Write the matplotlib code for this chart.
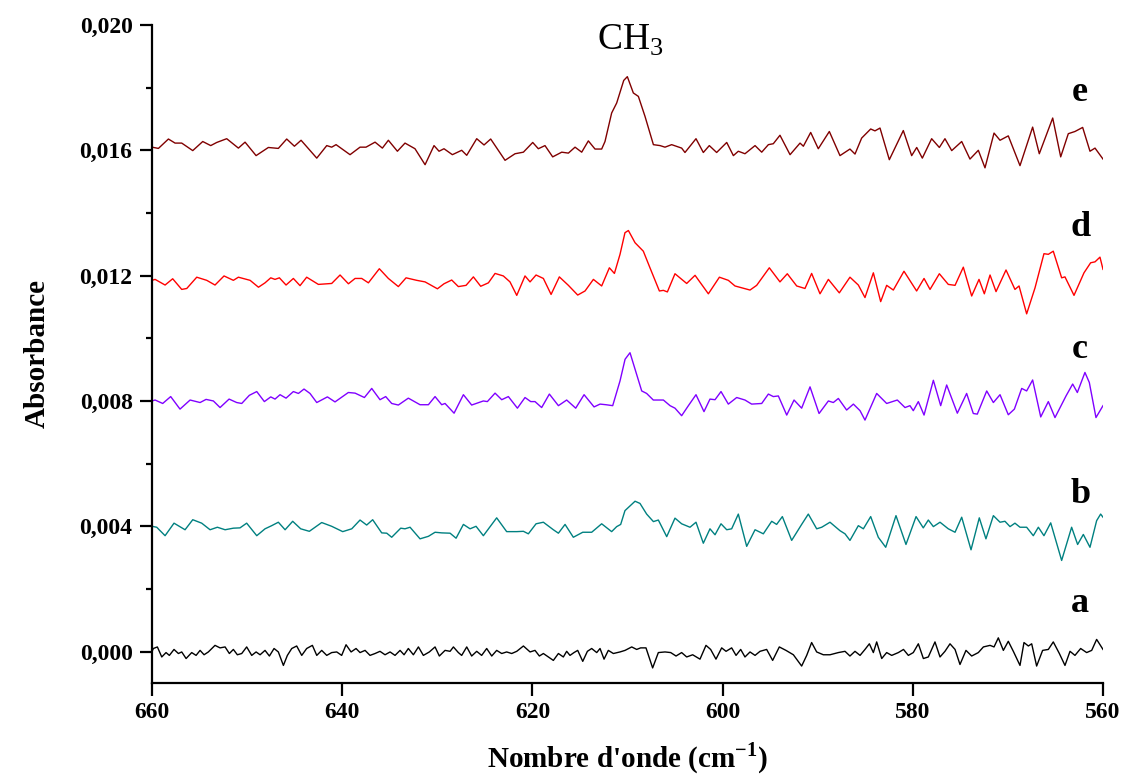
import matplotlib
matplotlib.use("Agg")
import matplotlib.pyplot as plt
import numpy as np

plt.rcParams['font.family'] = ['Liberation Serif', 'DejaVu Serif']
plt.rcParams['mathtext.fontset'] = 'custom'
plt.rcParams['mathtext.rm'] = 'Liberation Serif'
plt.rcParams['mathtext.bf'] = 'Liberation Serif:bold'

# absorbance values are given x 1e4
SCALE = 1e-4

# spectrum e (dark red)
x_e = [660.0, 659.33, 658.28, 657.58, 656.88, 655.72, 654.67, 653.83, 653.20, 652.15,
       650.92, 650.22, 649.06, 647.77, 646.72, 645.84, 645.03, 644.33, 643.46, 642.68,
       641.63, 641.11, 640.65, 639.18, 638.13, 637.50, 636.55, 635.78, 635.15, 634.20,
       633.40, 632.35, 631.29, 630.35, 629.82, 629.30, 628.42, 627.44, 626.91, 625.86,
       625.09, 624.39, 622.88, 621.83, 620.95, 619.97, 619.38, 618.68, 617.87, 616.92,
       616.22, 615.52, 614.82, 614.12, 613.42, 612.72, 612.37, 611.67, 611.14, 610.40,
       610.02, 609.39, 608.86, 608.16, 607.28, 606.58, 606.06, 605.36, 604.31, 603.96,
       602.80, 602.03, 601.40, 600.63, 599.57, 598.87, 598.35, 597.65, 596.59, 595.89,
       595.19, 594.67, 593.97, 592.91, 591.86, 591.51, 590.74, 589.94, 588.78, 587.66,
       586.61, 586.08, 585.38, 584.43, 583.98, 583.45, 582.47, 581.00, 580.12, 579.59,
       579.00, 578.02, 577.21, 576.62, 575.91, 574.86, 573.99, 573.11, 572.41, 571.46,
       570.83, 569.96, 568.73, 567.40, 566.70, 565.29, 564.45, 563.65, 562.95, 562.14,
       561.37, 560.84, 560.0]
y_e = [161.0, 160.6, 163.6, 162.3, 162.3, 159.9, 162.8, 161.5, 162.5, 163.7,
       160.7, 162.6, 158.3, 160.9, 160.6, 163.6, 161.3, 163.2, 160.2, 157.5,
       161.5, 161.0, 161.8, 158.6, 161.0, 161.0, 162.6, 160.7, 163.2, 159.7,
       162.3, 160.5, 155.4, 161.5, 159.7, 160.5, 158.6, 160.0, 158.4, 163.7,
       161.7, 163.6, 156.8, 158.9, 159.4, 162.5, 160.5, 161.5, 157.9, 159.4,
       159.1, 161.0, 159.4, 163.0, 160.4, 160.4, 162.8, 171.9, 175.1, 182.3,
       183.5, 178.3, 177.2, 170.8, 161.8, 161.5, 161.0, 161.8, 160.7, 159.3,
       163.7, 159.3, 161.5, 159.3, 162.5, 158.3, 159.7, 158.9, 161.5, 159.4,
       161.8, 162.1, 164.8, 158.6, 162.3, 161.3, 165.7, 160.5, 166.0, 158.3,
       160.4, 158.8, 163.9, 166.8, 166.2, 167.1, 157.0, 166.3, 158.3, 160.9,
       157.5, 163.7, 160.9, 163.7, 159.9, 162.8, 157.2, 160.0, 154.4, 165.5,
       163.2, 164.6, 155.1, 167.4, 158.9, 170.3, 157.9, 165.3, 166.0, 167.3,
       159.7, 160.7, 157.2]

# spectrum d (red)
x_d = [660.0, 659.68, 658.63, 657.83, 656.88, 656.35, 655.30, 654.25, 653.38, 652.43,
       651.45, 650.92, 649.69, 648.81, 648.12, 647.52, 647.07, 646.61, 645.91, 645.14,
       644.44, 643.74, 642.51, 641.11, 640.23, 639.35, 638.65, 637.95, 637.25, 636.10,
       635.15, 634.10, 633.29, 632.17, 631.29, 629.99, 629.30, 628.49, 627.79, 626.98,
       626.21, 625.44, 624.63, 623.93, 623.06, 622.36, 621.65, 620.78, 620.25, 619.62,
       618.85, 618.04, 617.17, 616.22, 615.24, 614.47, 613.59, 612.72, 611.91, 611.38,
       610.79, 610.27, 609.91,
       609.21, 608.34, 607.64, 606.65, 606.23, 605.81, 605.01, 603.78, 602.90, 601.50,
       600.34, 599.40, 598.70, 597.12, 596.42, 595.09, 593.97, 593.20, 592.21, 591.34,
       590.64, 589.76, 588.88, 587.73, 586.61, 585.73, 585.03, 584.15, 583.38, 582.75,
       582.05, 580.93, 579.60, 578.82, 578.19, 577.21, 576.27, 575.56, 574.69, 573.81,
       573.04, 572.48, 571.88, 571.25, 570.20, 569.26, 568.83, 568.03, 567.15, 566.21,
       565.75, 565.23, 564.35, 564.00, 563.05, 562.00, 561.30, 560.84, 560.32, 560.0]
y_d = [118.5, 118.8, 117.0, 119.0, 115.6, 115.9, 119.5, 118.5, 117.0, 119.9,
       118.5, 119.5, 118.5, 116.3, 117.7, 119.3, 118.8, 119.3, 117.0, 119.1,
       116.8, 119.5, 117.2, 117.5, 120.2, 117.4, 119.1, 119.1, 117.7, 122.2,
       119.1, 116.5, 119.3, 118.5, 118.0, 115.8, 117.4, 118.6, 116.5, 116.9,
       119.6, 116.6, 117.7, 120.7, 119.9, 118.0, 113.7, 119.9, 118.0, 120.2,
       119.1, 114.0, 119.6, 116.9, 113.8, 115.1, 118.8, 116.7, 122.5, 120.7,
       126.8, 133.7, 134.4,
       130.5, 127.8, 122.5, 115.1, 115.3, 114.8, 120.6, 117.5, 120.1, 114.2,
       119.5, 118.5, 116.7, 115.4, 116.9, 122.5, 118.0, 120.6, 116.7, 115.9,
       120.7, 114.2, 118.8, 114.5, 119.5, 117.0, 113.0, 120.9, 111.7, 116.9,
       115.4, 121.4, 115.1, 119.1, 115.6, 120.6, 117.2, 116.9, 122.7, 113.5,
       118.8, 114.2, 120.2, 114.9, 121.8, 115.6, 116.7, 107.8, 116.1, 127.0,
       126.8, 127.8, 119.3, 119.6, 113.7, 120.9, 124.1, 124.4, 125.9, 122.0]

# spectrum c (violet)
x_c = [660.0, 659.68, 658.88, 658.04, 657.06, 656.00, 654.95, 654.32, 653.55, 652.85,
       651.90, 651.10, 650.57, 649.77, 648.99, 648.19, 647.52, 647.07, 646.54, 645.91,
       645.14, 644.61, 644.02, 643.39, 642.68, 641.56, 640.76, 639.36, 638.65, 637.67,
       636.90, 636.03, 635.43, 634.80, 634.10, 633.05, 631.82, 630.94, 630.24, 629.54,
       629.19, 628.24, 627.26, 626.39, 625.16, 624.74, 623.93, 623.23, 622.53, 621.58,
       620.78, 620.18, 619.73, 619.03, 618.22, 617.27, 616.40, 615.45, 614.57, 613.52,
       612.89, 612.26, 611.56, 610.79, 610.26,
       609.74, 609.04, 608.51, 607.99, 607.29, 606.23, 605.53, 605.01, 604.31, 603.60,
       602.80, 601.96, 601.33, 600.80, 600.17, 599.40, 598.52, 597.65, 596.95, 595.89,
       595.19, 594.67, 594.14, 593.26, 592.49, 591.69, 590.81, 589.86, 588.88, 588.36,
       587.83, 586.96, 586.25, 585.55, 585.03, 583.80, 582.75, 581.63, 580.82, 580.30,
       579.95, 579.42, 578.82, 577.84, 577.07, 576.44, 575.32, 574.34, 573.64, 573.22,
       572.23, 571.53, 570.83, 569.96, 569.32, 568.55, 568.03, 567.40, 566.55, 565.75,
       565.05, 563.89, 563.19, 562.70, 561.90, 561.44, 560.74, 560.0]
y_c = [80.0, 80.3, 79.2, 81.4, 77.4, 80.3, 79.5, 80.5, 80.0, 77.9,
       80.6, 79.5, 79.2, 81.8, 83.0, 79.8, 81.3, 80.6, 82.0, 80.9,
       83.0, 82.4, 83.8, 82.4, 79.5, 81.3, 79.7, 82.7, 82.5, 81.1,
       84.0, 80.4, 81.4, 79.2, 78.7, 80.9, 78.8, 78.8, 81.4, 78.8,
       79.2, 76.1, 82.0, 78.7, 80.0, 79.8, 82.5, 80.4, 81.4, 77.7,
       81.1, 79.8, 79.8, 77.9, 82.2, 78.5, 80.3, 77.7, 82.0, 78.1,
       79.0, 78.8, 78.5, 86.4, 93.3,
       95.4, 88.5, 83.2, 82.4, 80.3, 80.3, 78.5, 77.7, 75.3, 78.5,
       82.0, 76.6, 80.6, 80.4, 83.0, 79.0, 81.1, 80.3, 79.0, 79.2,
       82.2, 81.4, 81.6, 75.5, 80.3, 77.7, 84.5, 76.0, 80.0, 79.5,
       80.8, 77.1, 79.0, 76.9, 73.9, 82.4, 79.2, 80.3, 77.9, 78.5,
       76.9, 79.8, 75.5, 86.6, 78.5, 85.1, 76.1, 82.4, 76.0, 75.8,
       83.2, 79.5, 82.0, 75.6, 77.4, 84.0, 83.2, 86.7, 74.9, 79.8,
       74.7, 81.6, 85.4, 82.7, 89.1, 85.9, 74.7, 78.5]

# spectrum b (teal)
x_b = [660.0, 659.51, 658.63, 657.69, 656.53, 655.72, 654.78, 653.90, 653.13, 652.32,
       651.45, 650.75, 650.05, 648.99, 648.12, 647.42, 646.72, 646.01, 645.21, 644.37,
       643.46, 642.16, 641.11, 639.95, 639.00, 638.13, 637.43, 636.80, 635.85, 635.32,
       634.80, 633.85, 633.40, 632.87, 631.82, 630.94, 630.24, 629.54, 628.66, 628.03,
       627.26, 626.56, 625.93, 625.16, 623.76, 622.71, 621.65, 620.95, 620.43, 619.62,
       618.85, 617.80, 617.27, 616.57, 615.70, 614.71, 613.77, 612.72, 611.67, 611.14,
       610.72, 610.27,
       609.21, 608.69, 607.99, 607.28, 606.76, 605.88, 605.01, 604.31, 603.43, 602.80,
       602.03, 601.33, 600.80, 600.17, 599.57, 599.05, 598.35, 597.47, 596.59, 595.72,
       594.84, 594.32, 593.72, 592.74, 591.69, 590.99, 590.11, 589.58, 588.71, 587.66,
       587.13, 586.61, 585.73, 585.20, 584.43, 583.63, 582.85, 581.77, 580.72, 579.66,
       578.90, 578.37, 577.84, 577.14, 576.27, 575.56, 574.86, 573.88, 573.01, 572.31,
       571.53, 570.83, 570.31, 569.78, 569.26, 568.73, 568.03, 567.33, 566.80, 566.21,
       565.50, 564.35, 563.30, 562.67, 562.07, 561.37, 560.67, 560.25, 560.0]
y_b = [40.0, 39.7, 37.0, 41.0, 38.9, 42.1, 41.0, 38.9, 39.7, 38.9,
       39.4, 39.5, 41.0, 37.0, 39.2, 40.2, 41.3, 38.9, 41.6, 39.2,
       38.4, 41.2, 40.0, 38.3, 39.2, 42.0, 40.4, 42.1, 37.9, 37.8,
       36.5, 39.4, 39.2, 39.7, 36.0, 36.8, 38.1, 37.9, 37.8, 36.2,
       40.6, 39.2, 40.0, 37.0, 42.7, 38.3, 38.3, 38.4, 37.6, 40.8,
       41.3, 38.9, 37.8, 40.6, 36.5, 38.1, 38.1, 40.8, 38.3, 39.9,
       40.6, 45.0,
       48.0, 47.3, 43.9, 41.5, 42.0, 36.7, 42.6, 40.8, 39.7, 41.3,
       34.6, 39.2, 37.3, 40.8, 38.9, 39.2, 43.9, 33.6, 38.9, 37.6,
       41.6, 40.6, 43.1, 35.5, 40.6, 43.9, 39.2, 39.7, 41.3, 38.6,
       37.6, 35.5, 40.2, 39.2, 43.1, 36.5, 33.3, 43.4, 34.2, 43.1,
       39.5, 42.0, 39.9, 41.3, 39.2, 38.1, 42.9, 32.5, 42.7, 36.0,
       43.4, 41.3, 41.6, 39.9, 41.0, 39.7, 39.7, 37.0, 39.7, 37.0,
       41.1, 29.1, 39.7, 34.2, 37.4, 33.3, 41.8, 43.9, 42.9]

# spectrum a (black)
x_a = [660.0, 659.86, 659.44, 658.98, 658.53, 658.18, 657.69, 657.23, 656.88, 656.42,
       655.83, 655.37, 654.95, 654.53, 654.08, 653.38, 652.85, 652.32, 651.87, 651.45,
       651.03, 650.57, 650.05, 649.52, 649.06, 648.64, 648.12, 647.66, 647.17, 646.72,
       646.19, 645.77, 645.31, 644.79, 644.26, 643.74, 643.14, 642.68, 642.16, 641.63,
       641.11, 640.58, 640.06, 639.60, 639.07, 638.55, 638.13, 637.60, 637.08, 636.55,
       636.03, 635.50, 634.97, 634.45, 633.92, 633.50, 633.05, 632.52, 631.99, 631.47,
       630.84, 630.24, 629.79, 629.19, 628.66, 628.31, 627.79, 627.44, 626.91, 626.39,
       625.86, 625.34, 624.81, 624.28, 623.76, 623.23, 622.71, 622.18, 621.65, 620.95,
       620.25, 619.73, 619.27, 618.85, 618.32, 617.80, 617.27, 616.75, 616.40, 616.05,
       615.63, 615.24, 614.71, 614.22, 613.77, 613.24, 612.89, 612.47, 612.02, 611.49,
       610.79, 610.26, 609.56, 609.04, 608.62, 608.06, 607.36, 606.76, 606.06, 605.46,
       604.90, 604.31, 603.78, 603.15, 602.38, 601.75, 601.26, 600.70, 600.10, 599.64,
       599.05, 598.59, 598.10, 597.65, 597.12, 596.59, 596.07, 595.37, 594.74, 594.04,
       593.34, 592.56, 591.69, 591.16, 590.64, 590.11, 589.41, 588.71, 587.83, 587.13,
       586.61, 586.08, 585.55, 585.03, 584.57, 584.15, 583.80, 583.27, 582.75, 582.22,
       581.52, 580.98, 580.47, 579.95, 579.42, 578.89, 578.37, 577.67, 577.14, 576.62,
       576.09, 575.56, 575.04, 574.41, 573.81, 573.11, 572.58, 571.88, 571.46, 571.01,
       570.48, 569.96, 569.43, 568.73, 568.31, 567.85, 567.50, 566.98, 566.35, 565.75,
       565.23, 564.59, 564.00, 563.47, 562.95, 562.35, 561.72, 561.19, 560.67, 560.0]
y_a = [0.1, 1.0, 1.5, -1.7, -0.3, -1.2, 0.7, -0.6, -0.1, -2.2,
       -0.3, -1.2, 0.4, -1.0, -0.1, 2.0, 1.2, 1.5, -0.6, 0.7,
       -1.0, -0.6, 1.5, -1.2, -0.1, -1.0, 0.4, -1.4, 1.0, -0.1,
       -4.4, -1.2, 1.0, 1.8, -1.2, 1.0, 2.0, -1.2, 0.4, -1.2,
       -0.3, -0.1, -1.2, 2.2, -0.1, 1.0, -0.3, 0.4, -1.2, -0.6,
       0.1, -1.0, -0.1, -1.2, 0.4, -1.0, 1.0, -1.0, 1.5, -1.2,
       -0.1, 1.5, -1.4, 0.4, 0.1, 1.5, -0.3, -1.2, 1.5, -1.4,
       0.1, -1.2, 1.0, -1.4, 0.4, -0.6, -0.1, -0.6, 0.1, 1.8,
       -0.1, 0.4, -1.4, -0.6, -1.7, -2.8, -0.6, -1.7, 0.1, -1.2,
       -0.3, 0.4, -3.1, 0.1, 1.0, -0.3, 1.0, -2.4, 0.4, -0.6,
       -0.1, 0.4, 1.5, 0.7, 1.2, 1.2, -5.2, -0.3, -0.1, -0.3,
       -1.4, -0.3, -1.7, -1.0, -2.4, 2.0, 0.7, -2.4, 1.2, 0.1,
       1.2, -1.2, 0.7, -1.7, -0.1, -1.2, 0.1, 0.7, -2.8, 1.5,
       0.4, -1.0, -4.6, -1.2, 2.9, -0.1, -1.0, -1.0, -0.3, 0.1,
       -1.4, 0.1, -1.2, 0.7, 2.5, -0.3, 3.1, -2.2, -0.3, -1.2,
       -0.3, 0.7, -1.2, -0.3, 2.5, -2.2, -1.7, 3.1, -1.7, 0.1,
       2.5, 0.7, -4.1, 0.4, -1.4, -0.3, 1.5, 2.0, 1.5, 4.4,
       0.4, 3.3, 0.1, -4.4, 2.9, 1.8, 2.5, -4.6, 0.4, 0.7,
       3.1, -0.6, -4.4, 0.1, -1.2, 1.0, -0.3, 0.4, 3.9, 0.7]

series = [
    (x_a, y_a, 'black'),
    (x_b, y_b, '#008080'),
    (x_c, y_c, '#8000ff'),
    (x_d, y_d, '#ff0000'),
    (x_e, y_e, '#800000'),
]

labels = ['a', 'b', 'c', 'd', 'e']
label_y = [0.00153, 0.00503, 0.00965, 0.01354, 0.01783]

yticks = [0.000, 0.004, 0.008, 0.012, 0.016, 0.020]
ytick_labels = ['0,000', '0,004', '0,008', '0,012', '0,016', '0,020']
xticks = [660, 640, 620, 600, 580, 560]

fig = plt.figure(figsize=(11.23, 7.80), dpi=100)
ax = fig.add_axes([0.1354, 0.1244, 0.8468, 0.8436])

for xs, ys, col in series:
    ax.plot(xs, np.array(ys) * SCALE, color=col, lw=1.0, solid_joinstyle='round')

ax.set_xlim(660, 560)
ax.set_ylim(-0.001, 0.020)

for s in ['top', 'right']:
    ax.spines[s].set_visible(False)
for s in ['left', 'bottom']:
    ax.spines[s].set_linewidth(1.6)

ax.set_xticks(xticks)
ax.set_xticklabels([str(v) for v in xticks])
ax.set_yticks(yticks)
ax.set_yticklabels(ytick_labels)
ax.set_yticks([0.002, 0.006, 0.010, 0.014, 0.018], minor=True)
ax.tick_params(which='major', direction='out', length=9, width=1.6, pad=5)
ax.tick_params(which='minor', direction='out', length=4.5, width=1.6)
for lab in ax.get_xticklabels():
    lab.set_fontsize(17)
    lab.set_fontweight('bold')
for lab in ax.get_yticklabels():
    lab.set_fontsize(17)
    lab.set_fontweight('bold')

ax.set_xlabel(r"Nombre d'onde (cm$^{\mathbf{-1}}$)", fontsize=21, fontweight='bold')
ax.xaxis.set_label_coords(0.5, -0.088)
ax.set_ylabel('Absorbance', fontsize=21, fontweight='bold')
ax.yaxis.set_label_coords(-0.107, 0.5)

for lab, ly in zip(labels, label_y):
    ax.text(562.4, ly, lab, fontsize=26, fontweight='bold', ha='center', va='center')

ax.text(609.7, 0.0195, r'CH$_3$', fontsize=27, ha='center', va='center')

fig.savefig('out.png', dpi=100)
